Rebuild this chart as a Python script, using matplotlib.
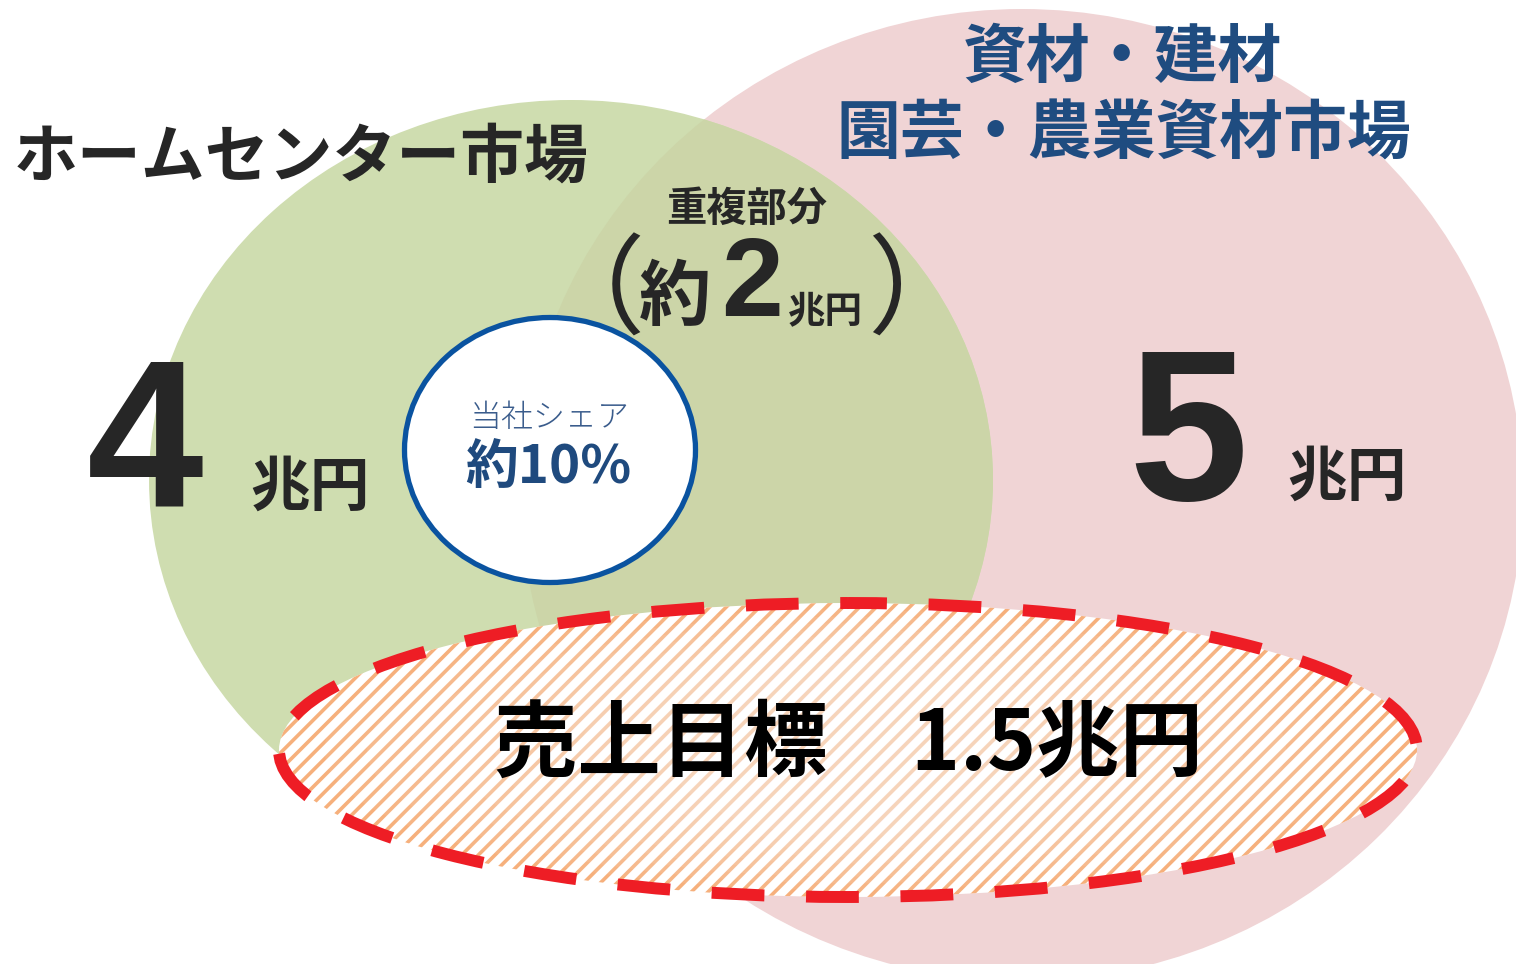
import matplotlib
matplotlib.use("Agg")
import matplotlib.pyplot as plt
from matplotlib.patches import Ellipse

plt.rcParams['font.family'] = ['Noto Sans CJK JP', 'DejaVu Sans']
plt.rcParams['lines.scale_dashes'] = False
plt.rcParams['hatch.linewidth'] = 2.6

# ---- data ----
market_labels = ["ホームセンター市場", "資材・建材\n園芸・農業資材市場"]
market_values = ["4", "5"]
overlap_title = "重複部分"
overlap_value = "2"
share_label = "当社シェア"
share_value = "約10%"
unit = "兆円"
target_label = "売上目標　1.5兆円"

W, H = 1516, 964
fig = plt.figure(figsize=(W / 100, H / 100), dpi=100)
ax = fig.add_axes([0, 0, 1, 1])
ax.set_xlim(0, W)
ax.set_ylim(H, 0)
ax.axis('off')

GREEN = '#CFDDB0'
PINK = '#F0D4D5'
OVER = '#CCD5A8'
DARK = '#262626'
NAVY = '#1F4C80'

pink = Ellipse((1022, 495), 1002, 972, facecolor=PINK, edgecolor='none', zorder=1)
ax.add_patch(pink)
green = Ellipse((571, 480), 844, 760, facecolor=GREEN, edgecolor='none', zorder=2)
ax.add_patch(green)
over = Ellipse((571, 480), 844, 760, facecolor=OVER, edgecolor='none', zorder=3)
ax.add_patch(over)
over.set_clip_path(pink)

# target ellipse (hatched)
EC, EW, EH = (848, 750), 1138, 294
hatch_e = Ellipse(EC, EW, EH, facecolor='white', edgecolor='#F6B07C',
                  linewidth=0, hatch='//', zorder=5)
ax.add_patch(hatch_e)
for k in range(9):
    f = 0.92 - k * 0.075
    ax.add_patch(Ellipse(EC, EW * f, EH * (f * 0.6 + 0.4), facecolor='white',
                         edgecolor='none', alpha=0.075, zorder=5.5))
border = Ellipse(EC, EW, EH, fill=False, edgecolor='#EE1D25',
                 linewidth=8.6, linestyle=(10, (38, 30)), capstyle='butt', zorder=6)
ax.add_patch(border)

# company share circle
share = Ellipse((550, 450), 291, 265, facecolor='white', edgecolor='#0A53A0',
                linewidth=3.8, zorder=7)
ax.add_patch(share)

# ---- texts ----
ax.text(301, 158, market_labels[0], fontsize=46, fontweight='bold', color=DARK,
        ha='center', va='center', zorder=10)
l1, l2 = market_labels[1].split("\n")
ax.text(1122, 58, l1, fontsize=46, fontweight='bold', color=NAVY,
        ha='center', va='center', zorder=10)
ax.text(1124, 135, l2, fontsize=46, fontweight='bold', color=NAVY,
        ha='center', va='center', zorder=10)

ax.text(145, 452, market_values[0], fontsize=151, fontweight='bold', color=DARK,
        family='Liberation Sans', ha='center', va='center', zorder=10)
ax.text(310, 489, unit, fontsize=43, fontweight='bold', color=DARK,
        ha='center', va='center', zorder=10)
ax.text(1188, 445, market_values[1], fontsize=155, fontweight='bold', color=DARK,
        family='Liberation Sans', ha='center', va='center', zorder=10)
ax.text(1347, 479, unit, fontsize=43, fontweight='bold', color=DARK,
        ha='center', va='center', zorder=10)

ax.text(747, 209, overlap_title, fontsize=29, fontweight='bold', color=DARK,
        ha='center', va='center', zorder=10)
ax.text(591, 295, "（", fontsize=78, color=DARK, ha='center', va='center', zorder=10)
ax.text(921, 295, "）", fontsize=78, color=DARK, ha='center', va='center', zorder=10)
ax.text(675, 299, "約", fontsize=52, fontweight='bold', color=DARK,
        ha='center', va='center', zorder=10)
ax.text(752, 287, overlap_value, fontsize=80, fontweight='bold', color=DARK,
        family='Liberation Sans', ha='center', va='center', zorder=10)
ax.text(825, 312, unit, fontsize=27, fontweight='bold', color=DARK,
        ha='center', va='center', zorder=10)

ax.text(549, 418, share_label, fontsize=23, fontweight='light', color='#3A5C8C',
        ha='center', va='center', zorder=10)
ax.text(548, 467, share_value, fontsize=38, fontweight='bold', color='#1F4A7E',
        ha='center', va='center', zorder=10)

ax.text(848, 745, target_label, fontsize=60, fontweight='bold', color='black',
        ha='center', va='center', zorder=10)

fig.savefig('out.png', dpi=100)
